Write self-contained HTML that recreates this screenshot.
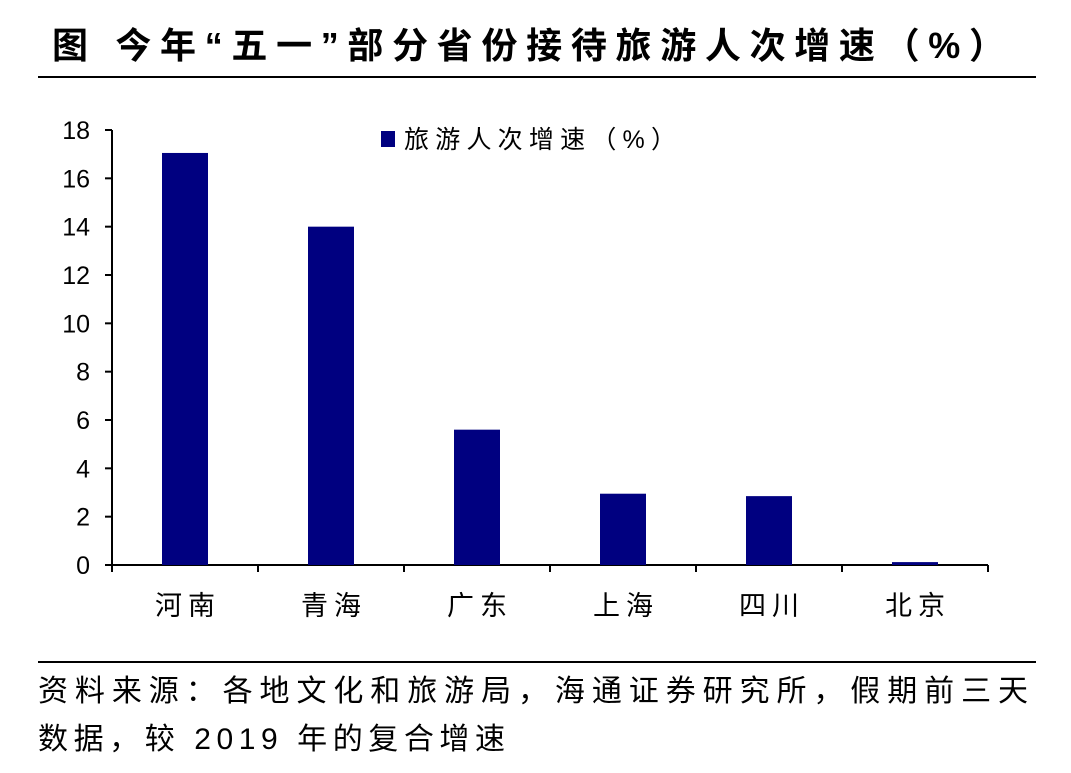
<!DOCTYPE html>
<html><head><meta charset="utf-8">
<style>
body{margin:0;background:#fff;width:1071px;height:768px;overflow:hidden;font-family:"Liberation Sans","Noto Sans CJK SC",sans-serif;}
svg text{font-family:"Liberation Sans","Noto Sans CJK SC",sans-serif;}
</style></head>
<body>
<svg width="1071" height="768" xmlns="http://www.w3.org/2000/svg">
<text x="52" y="58" font-size="36" font-weight="bold" fill="#000" textLength="953" lengthAdjust="spacing">图 今年“五一”部分省份接待旅游人次增速（%）</text>
<line x1="38" y1="77" x2="1036" y2="77" stroke="#000" stroke-width="2"/>
<g id="plot"></g>
<rect x="381" y="131" width="14" height="16" fill="#000080"/>
<text x="404" y="148" font-size="25" fill="#000" textLength="272" lengthAdjust="spacing">旅游人次增速（%）</text>
<line x1="38" y1="662" x2="1036" y2="662" stroke="#000" stroke-width="2"/>
<text x="38" y="701" font-size="30" fill="#000" textLength="990" lengthAdjust="spacing">资料来源：各地文化和旅游局，海通证券研究所，假期前三天</text>
<text x="38" y="749" font-size="30" fill="#000" textLength="467" lengthAdjust="spacing">数据，较 2019 年的复合增速</text>
</svg>
<script>
const categories=["河南","青海","广东","上海","四川","北京"];
const values=[17.05,14.0,5.6,2.95,2.85,0.12];
const yTicks=[0,2,4,6,8,10,12,14,16,18];
const NS="http://www.w3.org/2000/svg";
const g=document.getElementById('plot');
const x0=112,x1=988,yTop=130,yBot=565,yMax=18;
const y=v=>yBot-(v/yMax)*(yBot-yTop);
const band=(x1-x0)/categories.length;
const xc=i=>x0+band*(i+0.5);
function mk(t,a){const e=document.createElementNS(NS,t);for(const k in a)e.setAttribute(k,a[k]);g.appendChild(e);return e;}
let ax=mk('line',{x1:x0,y1:yTop,x2:x0,y2:yBot,stroke:'#000','stroke-width':2});


let bx=mk('line',{x1:x0,y1:yBot,x2:x1,y2:yBot,stroke:'#000','stroke-width':2});


yTicks.forEach(v=>{
 let tk=mk('line',{x1:x0-7,y1:y(v),x2:x0,y2:y(v),stroke:'#000','stroke-width':2});
 
 
 let t=mk('text',{x:x0-22,y:y(v)+9,'font-size':25,'text-anchor':'end',fill:'#000'});
 t.textContent=v;
 
 
});
for(let i=0;i<=categories.length;i++){
 let tk=mk('line',{x1:x0+band*i,y1:yBot,x2:x0+band*i,y2:yBot+7,stroke:'#000','stroke-width':2});
 
 
}
categories.forEach((c,i)=>{
 let r=mk('rect',{x:xc(i)-23,y:y(values[i]),width:46,height:yBot-y(values[i]),fill:'#000080'});
 
 
 let t=mk('text',{x:xc(i)-30,y:615,'font-size':27,fill:'#000',textLength:60,lengthAdjust:'spacing'});
 t.textContent=c;
 
 
});
</script>
</body></html>
